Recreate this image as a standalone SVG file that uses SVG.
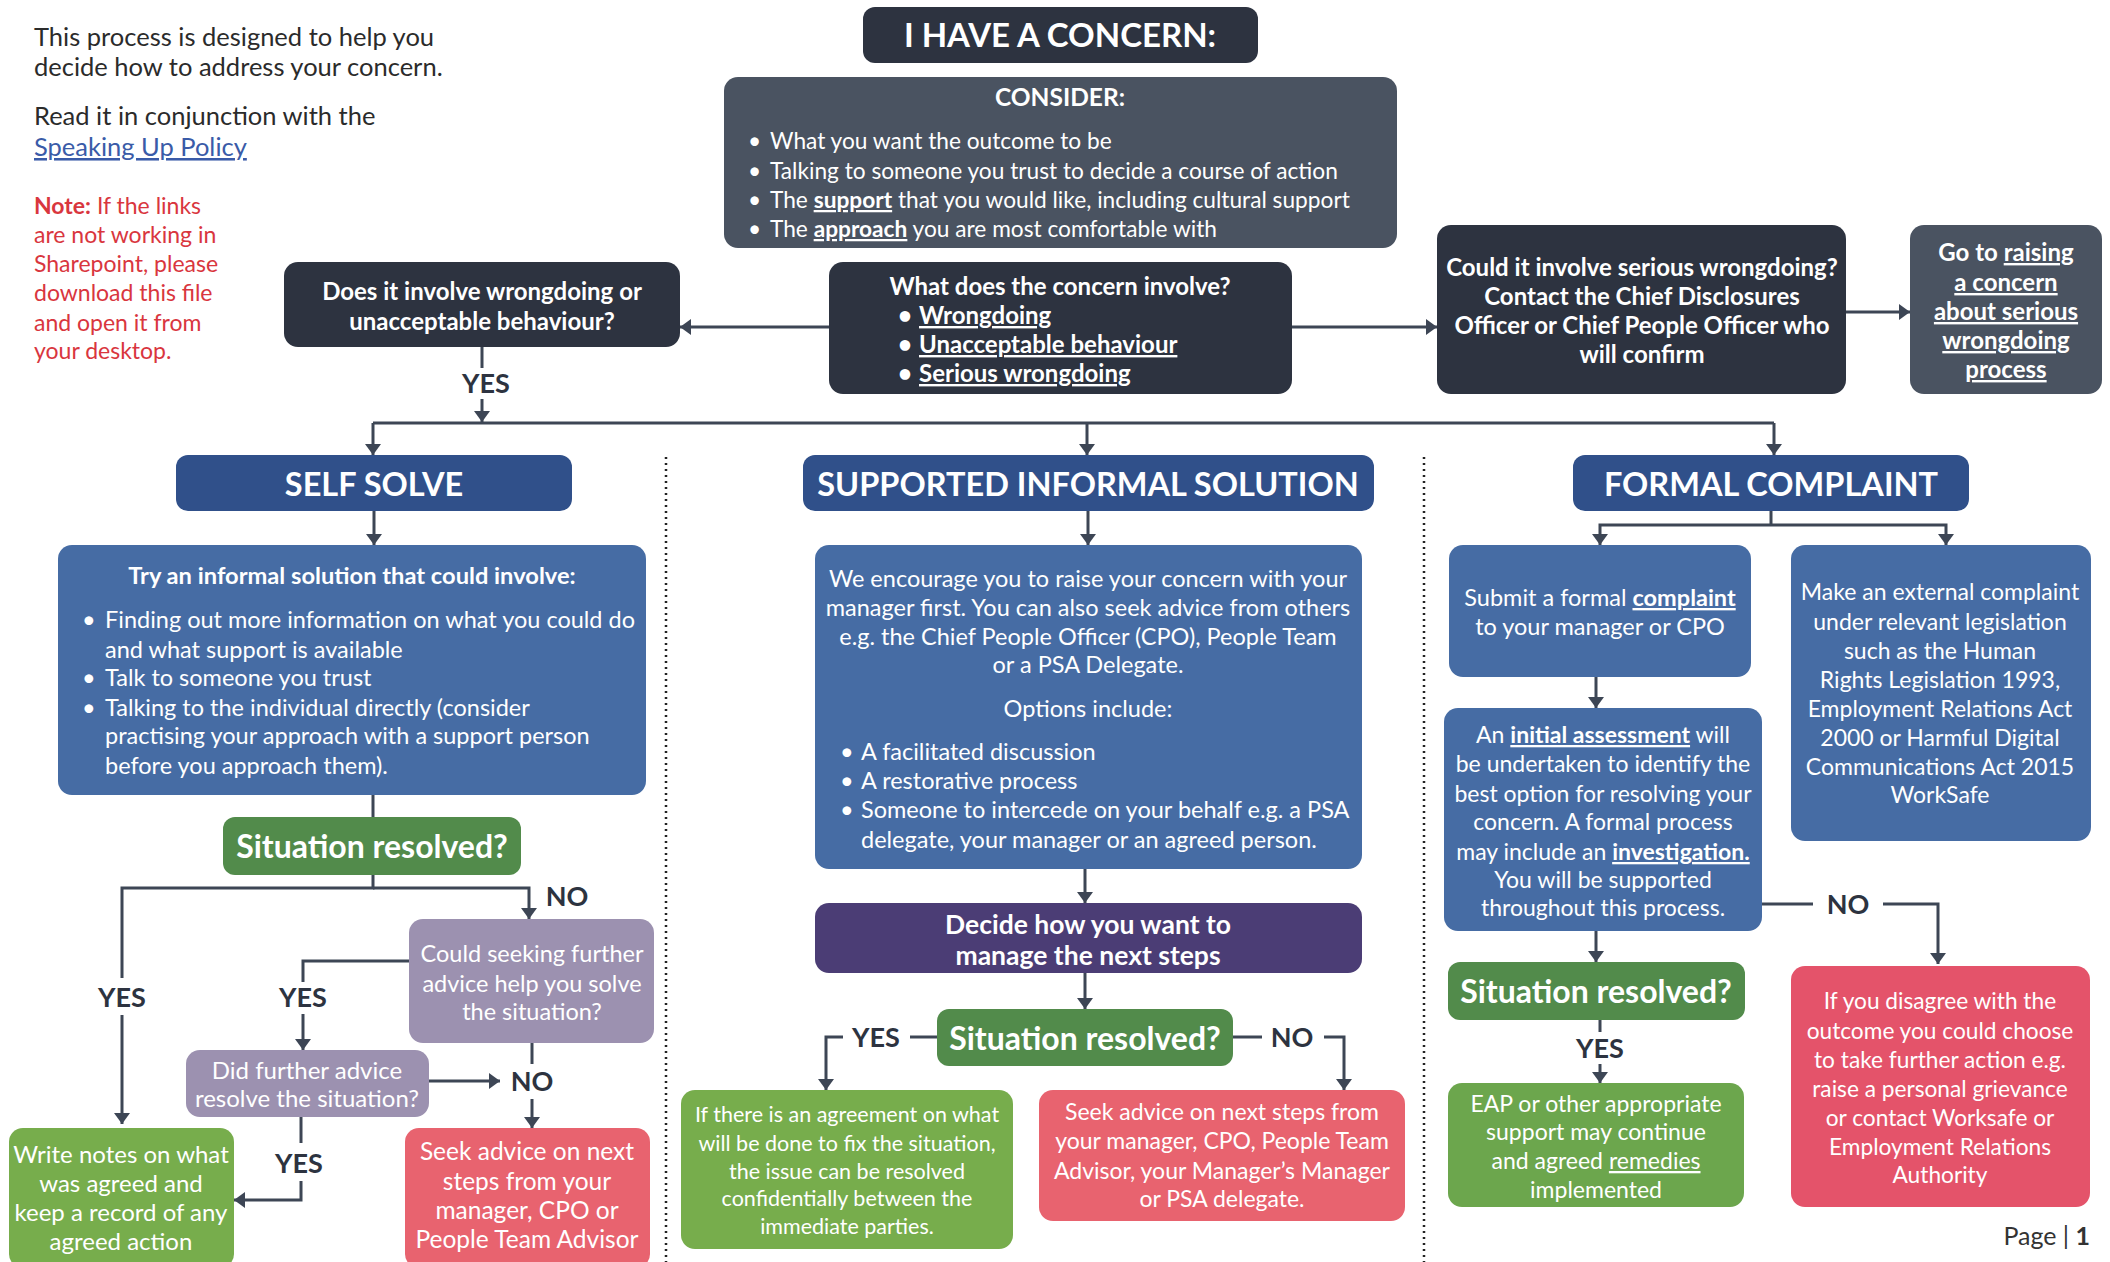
<svg xmlns="http://www.w3.org/2000/svg" width="2110" height="1262" viewBox="0 0 2110 1262">
<style>
text{font-family:Lato,"Noto Sans",sans-serif;font-size:23px;fill:#fff}
.b{font-weight:700}
.c{text-anchor:middle}
.u{text-decoration:underline}
.dark{fill:#2d3340}
.slate{fill:#4a5361}
.hdr{fill:#30508a}
.blue{fill:#466ca4}
.sg{fill:#528b4b}
.lg{fill:#77ad4c}
.lg2{fill:#6ca64d}
.pink{fill:#e8636f}
.red{fill:#e4536a}
.lav{fill:#9c91b0}
.pur{fill:#4b3d75}
.ln{fill:none;stroke:#3d4655;stroke-width:3}
.arr{marker-end:url(#ah)}
.lbl{fill:#2d3340;font-weight:700;font-size:27px;text-anchor:middle}
.sep{stroke:#222;stroke-width:2.5;stroke-dasharray:2 4}
.hd{font-size:32.5px;font-weight:700;text-anchor:middle}
.sr{font-size:32px;font-weight:700;text-anchor:middle}
.intro{fill:#2b2b2b;font-size:25.5px}
.note{fill:#d9363e;font-size:23px}
.f24{font-size:24px}
.f235{font-size:23.5px}
.f23{font-size:23px}
.f227{font-size:22.7px}
</style>
<defs>
<marker id="ah" viewBox="0 0 11 16" refX="11" refY="8" markerWidth="11" markerHeight="16" orient="auto" markerUnits="userSpaceOnUse"><path d="M0,0L11,8L0,16z" fill="#3d4655"/></marker>
</defs>

<g id="intro">
<text class="intro" x="34" y="46">This process is designed to help you</text>
<text class="intro" x="34" y="76">decide how to address your concern.</text>
<text class="intro" x="34" y="125">Read it in conjunction with the</text>
<text class="intro u" x="34" y="156" style="fill:#3a5ba8">Speaking Up Policy</text>
<text class="note" x="34" y="214"><tspan class="b">Note:</tspan> If the links</text>
<text class="note" x="34" y="243">are not working in</text>
<text class="note" x="34" y="272">Sharepoint, please</text>
<text class="note" x="34" y="301">download this file</text>
<text class="note" x="34" y="331">and open it from</text>
<text class="note" x="34" y="359">your desktop.</text>
</g>

<g id="separators">
<line class="sep" x1="666" y1="457" x2="666" y2="1262"/>
<line class="sep" x1="1424" y1="457" x2="1424" y2="1262"/>
</g>

<g id="connectors">
<line class="ln arr" x1="829" y1="327" x2="680" y2="327"/>
<line class="ln arr" x1="1292" y1="327" x2="1437" y2="327"/>
<line class="ln arr" x1="1846" y1="312" x2="1910" y2="312"/>
<line class="ln" x1="482" y1="347" x2="482" y2="368"/>
<line class="ln arr" x1="482" y1="399" x2="482" y2="422"/>
<line class="ln" x1="373" y1="423" x2="1774" y2="423"/>
<line class="ln arr" x1="373" y1="423" x2="373" y2="455"/>
<line class="ln arr" x1="1087" y1="423" x2="1087" y2="455"/>
<line class="ln arr" x1="1774" y1="423" x2="1774" y2="455"/>
<line class="ln arr" x1="374" y1="511" x2="374" y2="545"/>
<line class="ln" x1="373" y1="795" x2="373" y2="817"/>
<path class="ln" d="M373,875V888H122V978"/>
<line class="ln arr" x1="122" y1="1015" x2="122" y2="1124"/>
<path class="ln arr" d="M373,888H529V919"/>
<path class="ln" d="M409,961H303V982"/>
<line class="ln arr" x1="303" y1="1014" x2="303" y2="1050"/>
<line class="ln arr" x1="429" y1="1081" x2="500" y2="1081"/>
<line class="ln" x1="532" y1="1043" x2="532" y2="1064"/>
<line class="ln arr" x1="532" y1="1099" x2="532" y2="1128"/>
<line class="ln" x1="301" y1="1117" x2="301" y2="1143"/>
<path class="ln arr" d="M301,1181V1200H234"/>
<line class="ln arr" x1="1088" y1="511" x2="1088" y2="545"/>
<line class="ln arr" x1="1085" y1="869" x2="1085" y2="903"/>
<line class="ln arr" x1="1085" y1="973" x2="1085" y2="1009"/>
<line class="ln" x1="937" y1="1037" x2="910" y2="1037"/>
<path class="ln arr" d="M843,1037H826V1090"/>
<line class="ln" x1="1233" y1="1037" x2="1262" y2="1037"/>
<path class="ln arr" d="M1324,1037H1344V1090"/>
<line class="ln" x1="1771" y1="511" x2="1771" y2="525"/>
<path class="ln arr" d="M1771,525H1600V545"/>
<path class="ln arr" d="M1771,525H1946V545"/>
<line class="ln arr" x1="1596" y1="677" x2="1596" y2="708"/>
<line class="ln arr" x1="1596" y1="931" x2="1596" y2="962"/>
<line class="ln" x1="1762" y1="904" x2="1813" y2="904"/>
<path class="ln arr" d="M1883,904H1938V964"/>
<line class="ln" x1="1600" y1="1020" x2="1600" y2="1032"/>
<line class="ln arr" x1="1600" y1="1064" x2="1600" y2="1083"/>
</g>

<g id="labels">
<text class="lbl" x="486" y="393">YES</text>
<text class="lbl" x="122" y="1007">YES</text>
<text class="lbl" x="303" y="1007">YES</text>
<text class="lbl" x="567" y="906">NO</text>
<text class="lbl" x="532" y="1091">NO</text>
<text class="lbl" x="299" y="1173">YES</text>
<text class="lbl" x="876" y="1047">YES</text>
<text class="lbl" x="1292" y="1047">NO</text>
<text class="lbl" x="1848" y="914">NO</text>
<text class="lbl" x="1600" y="1058">YES</text>
</g>

<g id="title">
<rect class="dark" x="863" y="7" width="395" height="56" rx="12"/>
<text class="b c" x="1060" y="47" style="font-size:33px">I HAVE A CONCERN:</text>
</g>

<g id="consider">
<rect class="slate" x="724" y="77" width="673" height="171" rx="14"/>
<text class="b c" x="1060" y="106" style="font-size:24.5px">CONSIDER:</text>
<text class="f227" x="748" y="149">•</text><text class="f227" x="770" y="149">What you want the outcome to be</text>
<text class="f227" x="748" y="179">•</text><text class="f227" x="770" y="179">Talking to someone you trust to decide a course of action</text>
<text class="f227" x="748" y="208">•</text><text class="f227" x="770" y="208">The <tspan class="b u">support</tspan> that you would like, including cultural support</text>
<text class="f227" x="748" y="237">•</text><text class="f227" x="770" y="237">The <tspan class="b u">approach</tspan> you are most comfortable with</text>
</g>

<g id="does-it-involve">
<rect class="dark" x="284" y="262" width="396" height="85" rx="14"/>
<text class="b c f24" x="482" y="300">Does it involve wrongdoing or</text>
<text class="b c f24" x="482" y="330">unacceptable behaviour?</text>
</g>

<g id="what-does">
<rect class="dark" x="829" y="262" width="463" height="132" rx="14"/>
<text class="b c f24" x="1060" y="295">What does the concern involve?</text>
<text class="b f24" x="898" y="324">•</text><text class="b u f24" x="919" y="324">Wrongdoing</text>
<text class="b f24" x="898" y="353">•</text><text class="b u f24" x="919" y="353">Unacceptable behaviour</text>
<text class="b f24" x="898" y="382">•</text><text class="b u f24" x="919" y="382">Serious wrongdoing</text>
</g>

<g id="could-serious">
<rect class="dark" x="1437" y="225" width="409" height="169" rx="14"/>
<text class="b c f24" x="1642" y="276">Could it involve serious wrongdoing?</text>
<text class="b c f24" x="1642" y="305">Contact the Chief Disclosures</text>
<text class="b c f24" x="1642" y="334">Officer or Chief People Officer who</text>
<text class="b c f24" x="1642" y="363">will confirm</text>
</g>

<g id="go-to">
<rect class="slate" x="1910" y="225" width="192" height="169" rx="14"/>
<text class="b c f24" x="2006" y="261">Go to <tspan class="u">raising </tspan></text>
<text class="b c u f24" x="2006" y="291">a concern </text>
<text class="b c u f24" x="2006" y="320">about serious </text>
<text class="b c u f24" x="2006" y="349">wrongdoing </text>
<text class="b c u f24" x="2006" y="378">process</text>
</g>

<g id="self-solve">
<rect class="hdr" x="176" y="455" width="396" height="56" rx="12"/>
<text class="hd" x="374" y="496">SELF SOLVE</text>
</g>
<g id="supported">
<rect class="hdr" x="803" y="455" width="571" height="56" rx="12"/>
<text class="hd" x="1088" y="496">SUPPORTED INFORMAL SOLUTION</text>
</g>
<g id="formal">
<rect class="hdr" x="1573" y="455" width="396" height="56" rx="12"/>
<text class="hd" x="1771" y="496">FORMAL COMPLAINT</text>
</g>

<g id="try-informal">
<rect class="blue" x="58" y="545" width="588" height="250" rx="14"/>
<text class="b c" x="352" y="584" style="font-size:23.7px">Try an informal solution that could involve:</text>
<text class="f235" x="82" y="628">•</text><text class="f235" x="105" y="628">Finding out more information on what you could do</text>
<text class="f235" x="105" y="658">and what support is available</text>
<text class="f235" x="82" y="686">•</text><text class="f235" x="105" y="686">Talk to someone you trust</text>
<text class="f235" x="82" y="716">•</text><text class="f235" x="105" y="716">Talking to the individual directly (consider</text>
<text class="f235" x="105" y="744">practising your approach with a support person</text>
<text class="f235" x="105" y="774">before you approach them).</text>
</g>

<g id="resolved-1">
<rect class="sg" x="223" y="817" width="298" height="58" rx="12"/>
<text class="sr" x="372" y="858">Situation resolved?</text>
</g>

<g id="could-seeking">
<rect class="lav" x="409" y="919" width="245" height="124" rx="14"/>
<text class="c f235" x="532" y="962">Could seeking further</text>
<text class="c f235" x="532" y="992">advice help you solve</text>
<text class="c f235" x="532" y="1020">the situation?</text>
</g>

<g id="did-further">
<rect class="lav" x="186" y="1050" width="243" height="67" rx="14"/>
<text class="c f24" x="307" y="1079">Did further advice</text>
<text class="c f24" x="307" y="1107">resolve the situation?</text>
</g>

<g id="write-notes">
<rect class="lg" x="9" y="1128" width="225" height="140" rx="14"/>
<text class="c f24" x="121" y="1163">Write notes on what</text>
<text class="c f24" x="121" y="1192">was agreed and</text>
<text class="c f24" x="121" y="1221">keep a record of any</text>
<text class="c f24" x="121" y="1250">agreed action</text>
</g>

<g id="seek-1">
<rect class="pink" x="405" y="1128" width="245" height="140" rx="14"/>
<text class="c" x="527" y="1160" style="font-size:24.5px">Seek advice on next</text>
<text class="c" x="527" y="1190" style="font-size:24.5px">steps from your</text>
<text class="c" x="527" y="1219" style="font-size:24.5px">manager, CPO or</text>
<text class="c" x="527" y="1248" style="font-size:24.5px">People Team Advisor</text>
</g>

<g id="encourage">
<rect class="blue" x="815" y="545" width="547" height="324" rx="14"/>
<text class="c f235" x="1088" y="587">We encourage you to raise your concern with your</text>
<text class="c f235" x="1088" y="616">manager first. You can also seek advice from others</text>
<text class="c f235" x="1088" y="645">e.g. the Chief People Officer (CPO), People Team</text>
<text class="c f235" x="1088" y="673">or a PSA Delegate.</text>
<text class="c f235" x="1088" y="717">Options include:</text>
<text class="f235" x="840" y="760">•</text><text class="f235" x="861" y="760">A facilitated discussion</text>
<text class="f235" x="840" y="789">•</text><text class="f235" x="861" y="789">A restorative process</text>
<text class="f235" x="840" y="818">•</text><text class="f235" x="861" y="818">Someone to intercede on your behalf e.g. a PSA</text>
<text class="f235" x="861" y="848">delegate, your manager or an agreed person.</text>
</g>

<g id="decide">
<rect class="pur" x="815" y="903" width="547" height="70" rx="14"/>
<text class="b c" x="1088" y="934" style="font-size:26.5px">Decide how you want to</text>
<text class="b c" x="1088" y="965" style="font-size:26.5px">manage the next steps</text>
</g>

<g id="resolved-2">
<rect class="sg" x="937" y="1009" width="296" height="57" rx="12"/>
<text class="sr" x="1085" y="1050">Situation resolved?</text>
</g>

<g id="agreement">
<rect class="lg" x="681" y="1090" width="332" height="159" rx="14"/>
<text class="c" x="847" y="1122" style="font-size:21.5px">If there is an agreement on what</text>
<text class="c" x="847" y="1151" style="font-size:21.5px">will be done to fix the situation,</text>
<text class="c" x="847" y="1179" style="font-size:21.5px">the issue can be resolved</text>
<text class="c" x="847" y="1206" style="font-size:21.5px">confidentially between the</text>
<text class="c" x="847" y="1234" style="font-size:21.5px">immediate parties.</text>
</g>

<g id="seek-2">
<rect class="pink" x="1039" y="1090" width="366" height="131" rx="14"/>
<text class="c f23" x="1222" y="1120">Seek advice on next steps from</text>
<text class="c f23" x="1222" y="1149">your manager, CPO, People Team</text>
<text class="c f23" x="1222" y="1179">Advisor, your Manager’s Manager</text>
<text class="c f23" x="1222" y="1207">or PSA delegate.</text>
</g>

<g id="submit">
<rect class="blue" x="1449" y="545" width="302" height="132" rx="14"/>
<text class="c f235" x="1600" y="606">Submit a formal <tspan class="b u">complaint</tspan></text>
<text class="c f235" x="1600" y="635">to your manager or CPO</text>
</g>

<g id="external">
<rect class="blue" x="1791" y="545" width="300" height="296" rx="14"/>
<text class="c f23" x="1940" y="600">Make an external complaint</text>
<text class="c f23" x="1940" y="630">under relevant legislation</text>
<text class="c f23" x="1940" y="659">such as the Human</text>
<text class="c f23" x="1940" y="688">Rights Legislation 1993,</text>
<text class="c f23" x="1940" y="717">Employment Relations Act</text>
<text class="c f23" x="1940" y="746">2000 or Harmful Digital</text>
<text class="c f23" x="1940" y="775">Communications Act 2015</text>
<text class="c f23" x="1940" y="803">WorkSafe</text>
</g>

<g id="initial">
<rect class="blue" x="1444" y="708" width="318" height="223" rx="14"/>
<text class="c f23" x="1603" y="743">An <tspan class="b u">initial assessment</tspan> will</text>
<text class="c f23" x="1603" y="772">be undertaken to identify the</text>
<text class="c f23" x="1603" y="802">best option for resolving your</text>
<text class="c f23" x="1603" y="830">concern. A formal process</text>
<text class="c f23" x="1603" y="860">may include an <tspan class="b u">investigation.</tspan></text>
<text class="c f23" x="1603" y="888">You will be supported</text>
<text class="c f23" x="1603" y="916">throughout this process.</text>
</g>

<g id="resolved-3">
<rect class="sg" x="1448" y="962" width="297" height="58" rx="12"/>
<text class="sr" x="1596" y="1003">Situation resolved?</text>
</g>

<g id="eap">
<rect class="lg2" x="1448" y="1083" width="296" height="124" rx="14"/>
<text class="c f23" x="1596" y="1112">EAP or other appropriate</text>
<text class="c f23" x="1596" y="1140">support may continue</text>
<text class="c f23" x="1596" y="1169">and agreed <tspan class="u">remedies</tspan></text>
<text class="c f23" x="1596" y="1198">implemented</text>
</g>

<g id="disagree">
<rect class="red" x="1791" y="966" width="299" height="241" rx="14"/>
<text class="c f227" x="1940" y="1009">If you disagree with the</text>
<text class="c f227" x="1940" y="1039">outcome you could choose</text>
<text class="c f227" x="1940" y="1068">to take further action e.g.</text>
<text class="c f227" x="1940" y="1097">raise a personal grievance</text>
<text class="c f227" x="1940" y="1126">or contact Worksafe or</text>
<text class="c f227" x="1940" y="1155">Employment Relations</text>
<text class="c f227" x="1940" y="1183">Authority</text>
</g>

<g id="page">
<text x="2090" y="1245" style="fill:#333;text-anchor:end;font-size:25px">Page | <tspan class="b">1</tspan></text>
</g>
</svg>
